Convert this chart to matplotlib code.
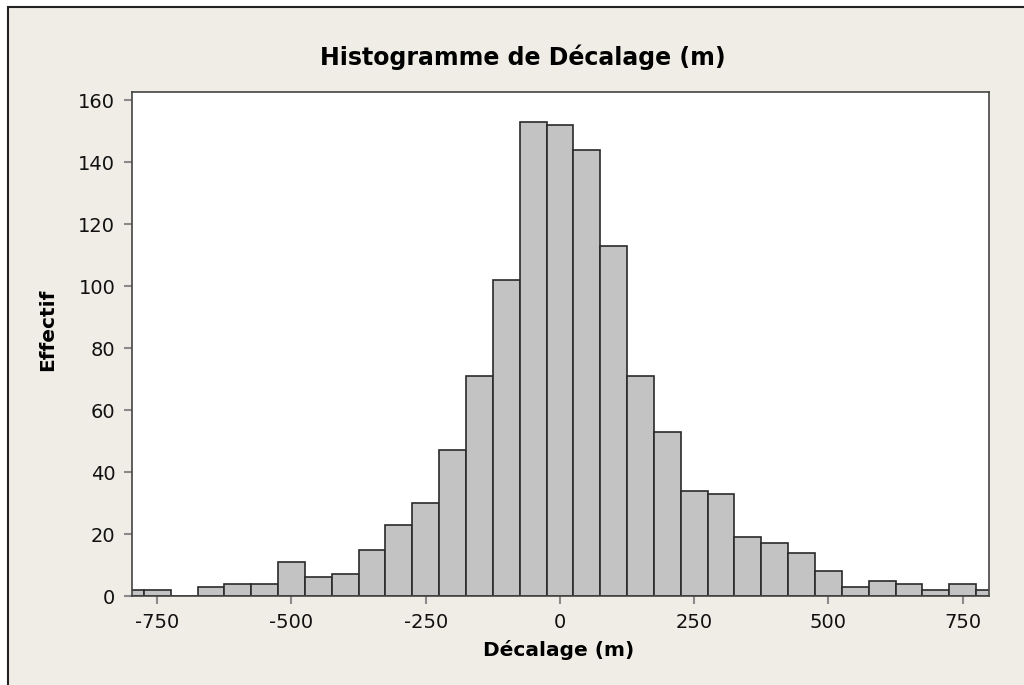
import numpy as np
import matplotlib
matplotlib.use('Agg')
import matplotlib.pyplot as plt
from matplotlib.patches import Rectangle

# bin centres (width 50) and counts
bin_centres = list(range(-800, 801, 50))
counts = [2, 2, 0, 3, 4, 4, 11, 6, 7, 15, 23, 30, 47, 71, 102, 153,
          152, 144, 113, 71, 53, 34, 33, 19, 17, 14, 8, 3, 5, 4, 2, 4, 2]
x_ticks = [-750, -500, -250, 0, 250, 500, 750]
y_ticks = [0, 20, 40, 60, 80, 100, 120, 140, 160]

title = 'Histogramme de Décalage (m)'
x_label = 'Décalage (m)'
y_label = 'Effectif'

bg = '#efede6'

fig = plt.figure(figsize=(10.24, 6.85), dpi=100, facecolor='white')
# beige panel with a dark line on its top and left edges
fig.patches.append(Rectangle((8 / 1024, -0.1), 1.2, 1.1 - 7 / 685,
                             transform=fig.transFigure, facecolor=bg,
                             edgecolor='#222222', linewidth=1.5, zorder=-10))

ax = fig.add_axes([132 / 1024, (685 - 596) / 685, (989 - 132) / 1024, (596 - 92) / 685])
ax.set_facecolor('white')
ax.bar(bin_centres, counts, width=50, align='center', color='#c3c3c3',
       edgecolor='#2a2a2a', linewidth=1.2)

ax.set_xlim(-797, 799)
ax.set_ylim(0, 162.6)
ax.set_xticks(x_ticks)
ax.set_xticklabels([str(v) for v in x_ticks])
ax.set_yticks(y_ticks)
ax.tick_params(axis='both', direction='out', length=6, width=1.5, color='#8a8a8a',
               labelsize=14, pad=6, labelcolor='#111111')
for s in ax.spines.values():
    s.set_color('#444444')
    s.set_linewidth(1.2)

fig.text(0.511, (685 - 57) / 685, title, ha='center', va='center',
         fontsize=17, fontweight='bold')
fig.text(559 / 1024, (685 - 650) / 685, x_label, ha='center', va='center',
         fontsize=14.5, fontweight='bold')
fig.text(48 / 1024, (685 - 330) / 685, y_label, ha='center', va='center',
         rotation=90, fontsize=14.5, fontweight='bold')

fig.savefig('out.png', dpi=100, facecolor=fig.get_facecolor())
